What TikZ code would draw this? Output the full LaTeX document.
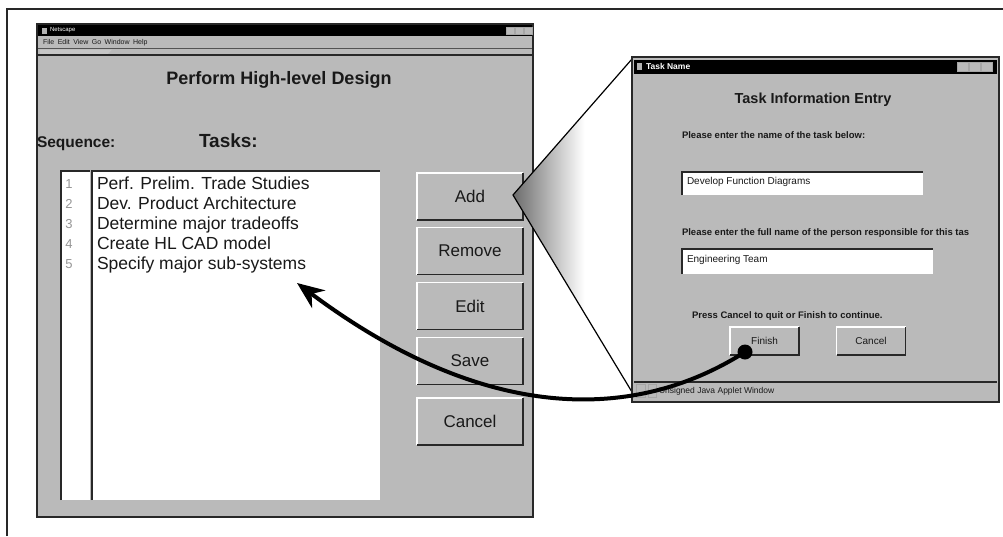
\documentclass[tikz,border=0pt]{standalone}
\usepackage{fontspec}
\setmainfont{Liberation Sans}
\usetikzlibrary{arrows.meta}

\definecolor{winbg}{RGB}{186,186,186}
\definecolor{edge}{RGB}{40,40,40}
\definecolor{txt}{RGB}{25,25,25}
\definecolor{seqnum}{RGB}{150,150,150}

% grey wedge that fades to white towards the dialog
\pgfdeclarehorizontalshading{calloutshade}{100bp}{color(0bp)=(black!58); color(25bp)=(black!58); color(55bp)=(white); color(100bp)=(white)}

% raised 3D edge of a GUI button node
\newcommand\guibevel[1]{%
  \draw[white, line width=1.2pt] (#1.south west) |- (#1.north east);
  \draw[edge, line width=1.6pt] (#1.south west) -| (#1.north east);
}

\begin{document}
\begin{tikzpicture}[x=1pt,y=-1pt,
  every node/.style={inner sep=0pt, outer sep=0pt},
  winbody/.style={draw=edge, line width=1.2pt, fill=winbg},
  guibtn/.style={fill=winbg, minimum width=106pt, minimum height=47pt,
    font=\fontsize{17}{20}\selectfont, text=txt},
  smallbtn/.style={fill=winbg, minimum width=69pt, minimum height=28pt,
    font=\fontsize{10}{12}\selectfont, text=txt},
  field/.style={fill=white, anchor=north west},
  fieldtext/.style={anchor=base west, font=\fontsize{10}{12}\selectfont, text=txt},
  task/.style={anchor=base west, font=\fontsize{17.5}{20}\selectfont, text=txt},
  seqno/.style={anchor=base, font=\fontsize{13}{15}\selectfont, text=seqnum},
  dlgtext/.style={anchor=base west, font=\bfseries\fontsize{9.5}{11}\selectfont, text=txt},
  ctrlbox/.style={fill=winbg, draw=gray!70, line width=0.6pt},
]
\useasboundingbox (0,0) rectangle (1003,536);

% page frame
\draw[edge, line width=1.5pt] (7,536) -- (7,9) -- (1003,9);

% ---------------- browser window ----------------
\node[winbody, anchor=north west, minimum width=496pt, minimum height=493pt] (lwin) at (37,24) {};
\fill[black] (38,25) rectangle (532,36);
\fill[gray!60] (42,27.5) rectangle (47,33.5);
\node[anchor=west, text=white, font=\fontsize{6}{7}\selectfont] (ltitle) at (50,30.5) {Netscape};
\foreach \cx in {506,515,524} \draw[ctrlbox] (\cx,27) rectangle ++(8,7);
\node[anchor=west, font=\fontsize{7}{8}\selectfont, text=txt] (lmenu) at (43,42.5)
  {File\enspace Edit\enspace View\enspace Go\enspace Window\enspace Help};
\draw[edge!80, line width=0.8pt] (38,48.5) -- (532,48.5);
\fill[gray!45] (40,49.5) -- (112,49.5) -- (108,54) -- (40,54) -- cycle;
\draw[edge, line width=1.4pt] (38,55) -- (532,55);

\node[font=\bfseries\fontsize{18}{21}\selectfont, text=txt] (title) at (279,80) {Perform High-level Design};
\node[anchor=base west, font=\bfseries\fontsize{15.5}{18}\selectfont, text=txt] (seqlbl) at (37,147.5) {Sequence:};
\node[anchor=base west, font=\bfseries\fontsize{19}{22}\selectfont, text=txt] (tasklbl) at (199,147.5) {Tasks:};

% sequence column and task list
\node[fill=white, anchor=north west, minimum width=29pt, minimum height=329pt] (seqcol) at (61,171) {};
\node[fill=white, anchor=north west, minimum width=288pt, minimum height=329pt] (taskcol) at (92,171) {};
\draw[edge, line width=2pt] (seqcol.south west) -- (seqcol.north west) -- (seqcol.north east);
\draw[edge, line width=2pt] (taskcol.south west) -- (taskcol.north west) -- (taskcol.north east);

\foreach \i in {1,...,5} \node[seqno] (n\i) at (69,168.5+20*\i) {\i};
\node[task] (t1) at (97,189) {Perf. Prelim. Trade Studies};
\node[task] (t2) at (97,209) {Dev. Product Architecture};
\node[task] (t3) at (97,229) {Determine major tradeoffs};
\node[task] (t4) at (97,249) {Create HL CAD model};
\node[task] (t5) at (97,269) {Specify major sub-systems};

% side buttons
\node[guibtn] (add) at (470,196.5) {Add};
\node[guibtn] (remove) at (470,251) {Remove};
\node[guibtn] (edit) at (470,306) {Edit};
\node[guibtn] (save) at (470,361) {Save};
\node[guibtn] (cancel) at (470,421.5) {Cancel};
\foreach \b in {add,remove,edit,save,cancel} {\guibevel{\b}}

% ---------------- callout wedge ----------------
\coordinate (apex) at (513,195);
\coordinate (ctop) at (632,59);
\coordinate (cbot) at (632,392);
\shade[shading=calloutshade] (apex) -- (ctop) -- (cbot) -- cycle;
\draw[black, line width=1.2pt] (ctop) -- (apex) -- (cbot);

% ---------------- dialog window ----------------
\node[winbody, anchor=north west, minimum width=367pt, minimum height=345pt] (rwin) at (632,57) {};
\fill[black] (634,59.5) rectangle (997,73.5);
\fill[gray!60] (637,63) rectangle (642,70);
\node[anchor=west, text=white, font=\bfseries\fontsize{8.5}{10}\selectfont] (rtitle) at (646,66.5) {Task Name};
\foreach \cx in {957,969,981} \draw[ctrlbox] (\cx,62.5) rectangle ++(11,9);

\node[font=\bfseries\fontsize{14.5}{17}\selectfont, text=txt] (dlgtitle) at (813,100) {Task Information Entry};
\node[dlgtext] (q1) at (682,138.5) {Please enter the name of the task below:};
\node[field, minimum width=241pt, minimum height=23pt] (f1) at (682,172) {};
\draw[edge, line width=1.5pt] (f1.south west) |- (f1.north east);
\node[fieldtext] (a1) at (687,184.5) {Develop Function Diagrams};
\node[dlgtext] (q2) at (682,235.5) {Please enter the full name of the person responsible for this tas};
\node[field, minimum width=251pt, minimum height=25pt] (f2) at (682,249) {};
\draw[edge, line width=1.5pt] (f2.south west) |- (f2.north east);
\node[fieldtext] (a2) at (687,262.5) {Engineering Team};
\node[dlgtext] (q3) at (692,318.5) {Press Cancel to quit or Finish to continue.};

\node[smallbtn] (finish) at (764.5,341) {Finish};
\node[smallbtn] (dcancel) at (871,341) {Cancel};
\guibevel{finish}
\guibevel{dcancel}

% status bar
\draw[edge, line width=1.2pt] (634,382) -- (997,382);
\draw[ctrlbox] (636,384) rectangle (645,397);
\draw[ctrlbox] (648,384) rectangle (656,397);
\node[anchor=west, font=\fontsize{8.5}{10}\selectfont, text=txt] (status) at (659,391) {Unsigned Java Applet Window};

% ---------------- connector from Finish back to the list ----------------
\node[circle, fill=black, minimum size=15pt] (dot) at (745,352) {};
\coordinate (tip) at (297,283);
\draw[line width=4pt, -{Stealth[length=27pt,width=22pt]}]
  (dot.center) .. controls (630,425) and (480,420) .. (tip);
\end{tikzpicture}
\end{document}
